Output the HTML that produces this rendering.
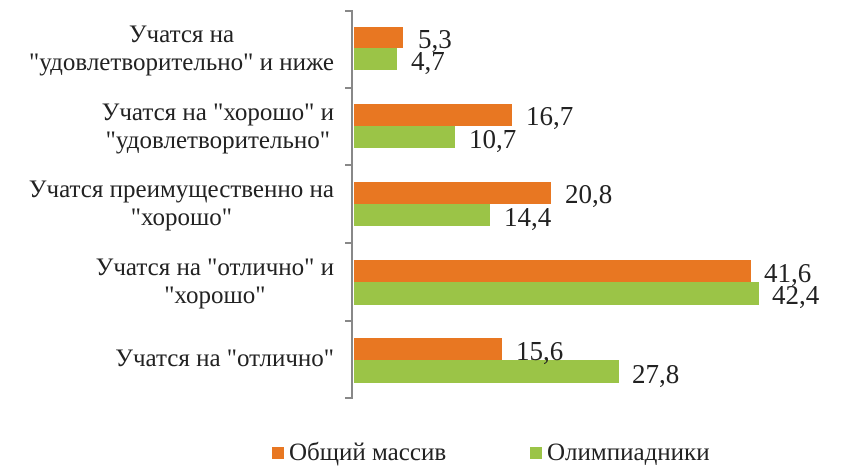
<!DOCTYPE html>
<html><head><meta charset="utf-8"><style>
body{margin:0;width:841px;height:474px;background:#fff;position:relative;overflow:hidden;font-family:"Liberation Serif",serif;color:#222}
.c{position:absolute;right:507px;text-align:center;font-size:25px;line-height:28px;transform:translateY(-50%);white-space:nowrap}
.b{position:absolute;left:354px}
.o{background:#E87722}.g{background:#9BC447}
.v{position:absolute;font-size:27px;line-height:24px}
</style></head><body>
<div style="position:absolute;left:351px;top:10px;width:2px;height:389px;background:#888"></div>
<div style="position:absolute;left:345px;top:10px;width:7px;height:2px;background:#888"></div>
<div style="position:absolute;left:345px;top:87px;width:7px;height:2px;background:#888"></div>
<div style="position:absolute;left:345px;top:164px;width:7px;height:2px;background:#888"></div>
<div style="position:absolute;left:345px;top:242px;width:7px;height:2px;background:#888"></div>
<div style="position:absolute;left:345px;top:320px;width:7px;height:2px;background:#888"></div>
<div style="position:absolute;left:345px;top:397px;width:7px;height:2px;background:#888"></div>

<div class="c" style="top:49px">Учатся на<br>"удовлетворительно" и ниже</div>
<div class="c" style="top:127px">Учатся на "хорошо" и<br>"удовлетворительно"</div>
<div class="c" style="top:204px">Учатся преимущественно на<br>"хорошо"</div>
<div class="c" style="top:282px">Учатся на "отлично" и<br>"хорошо"</div>
<div class="c" style="top:359px">Учатся на "отлично"</div>

<div class="b o" style="top:27px;height:21px;width:49px"></div>
<div class="b g" style="top:48px;height:22px;width:43px"></div>
<div class="b o" style="top:104px;height:22px;width:158px"></div>
<div class="b g" style="top:126px;height:22px;width:101px"></div>
<div class="b o" style="top:182px;height:22px;width:197px"></div>
<div class="b g" style="top:204px;height:22px;width:136px"></div>
<div class="b o" style="top:260px;height:22px;width:397px"></div>
<div class="b g" style="top:282px;height:23px;width:405px"></div>
<div class="b o" style="top:338px;height:22px;width:148px"></div>
<div class="b g" style="top:360px;height:23px;width:265px"></div>

<div class="v" style="left:418px;top:27px">5,3</div>
<div class="v" style="left:411px;top:49px">4,7</div>
<div class="v" style="left:526px;top:104px">16,7</div>
<div class="v" style="left:469px;top:127px">10,7</div>
<div class="v" style="left:565px;top:182px">20,8</div>
<div class="v" style="left:504px;top:205px">14,4</div>
<div class="v" style="left:764px;top:261px">41,6</div>
<div class="v" style="left:772px;top:283px">42,4</div>
<div class="v" style="left:516px;top:339px">15,6</div>
<div class="v" style="left:632px;top:362px">27,8</div>

<div style="position:absolute;left:272px;top:447px;width:12px;height:12px;background:#E87722"></div>
<div style="position:absolute;left:289px;top:440px;font-size:25px;line-height:26px;white-space:nowrap">Общий массив</div>
<div style="position:absolute;left:530px;top:447px;width:12px;height:12px;background:#9BC447"></div>
<div style="position:absolute;left:547px;top:440px;font-size:25px;line-height:26px;white-space:nowrap">Олимпиадники</div>
</body></html>
